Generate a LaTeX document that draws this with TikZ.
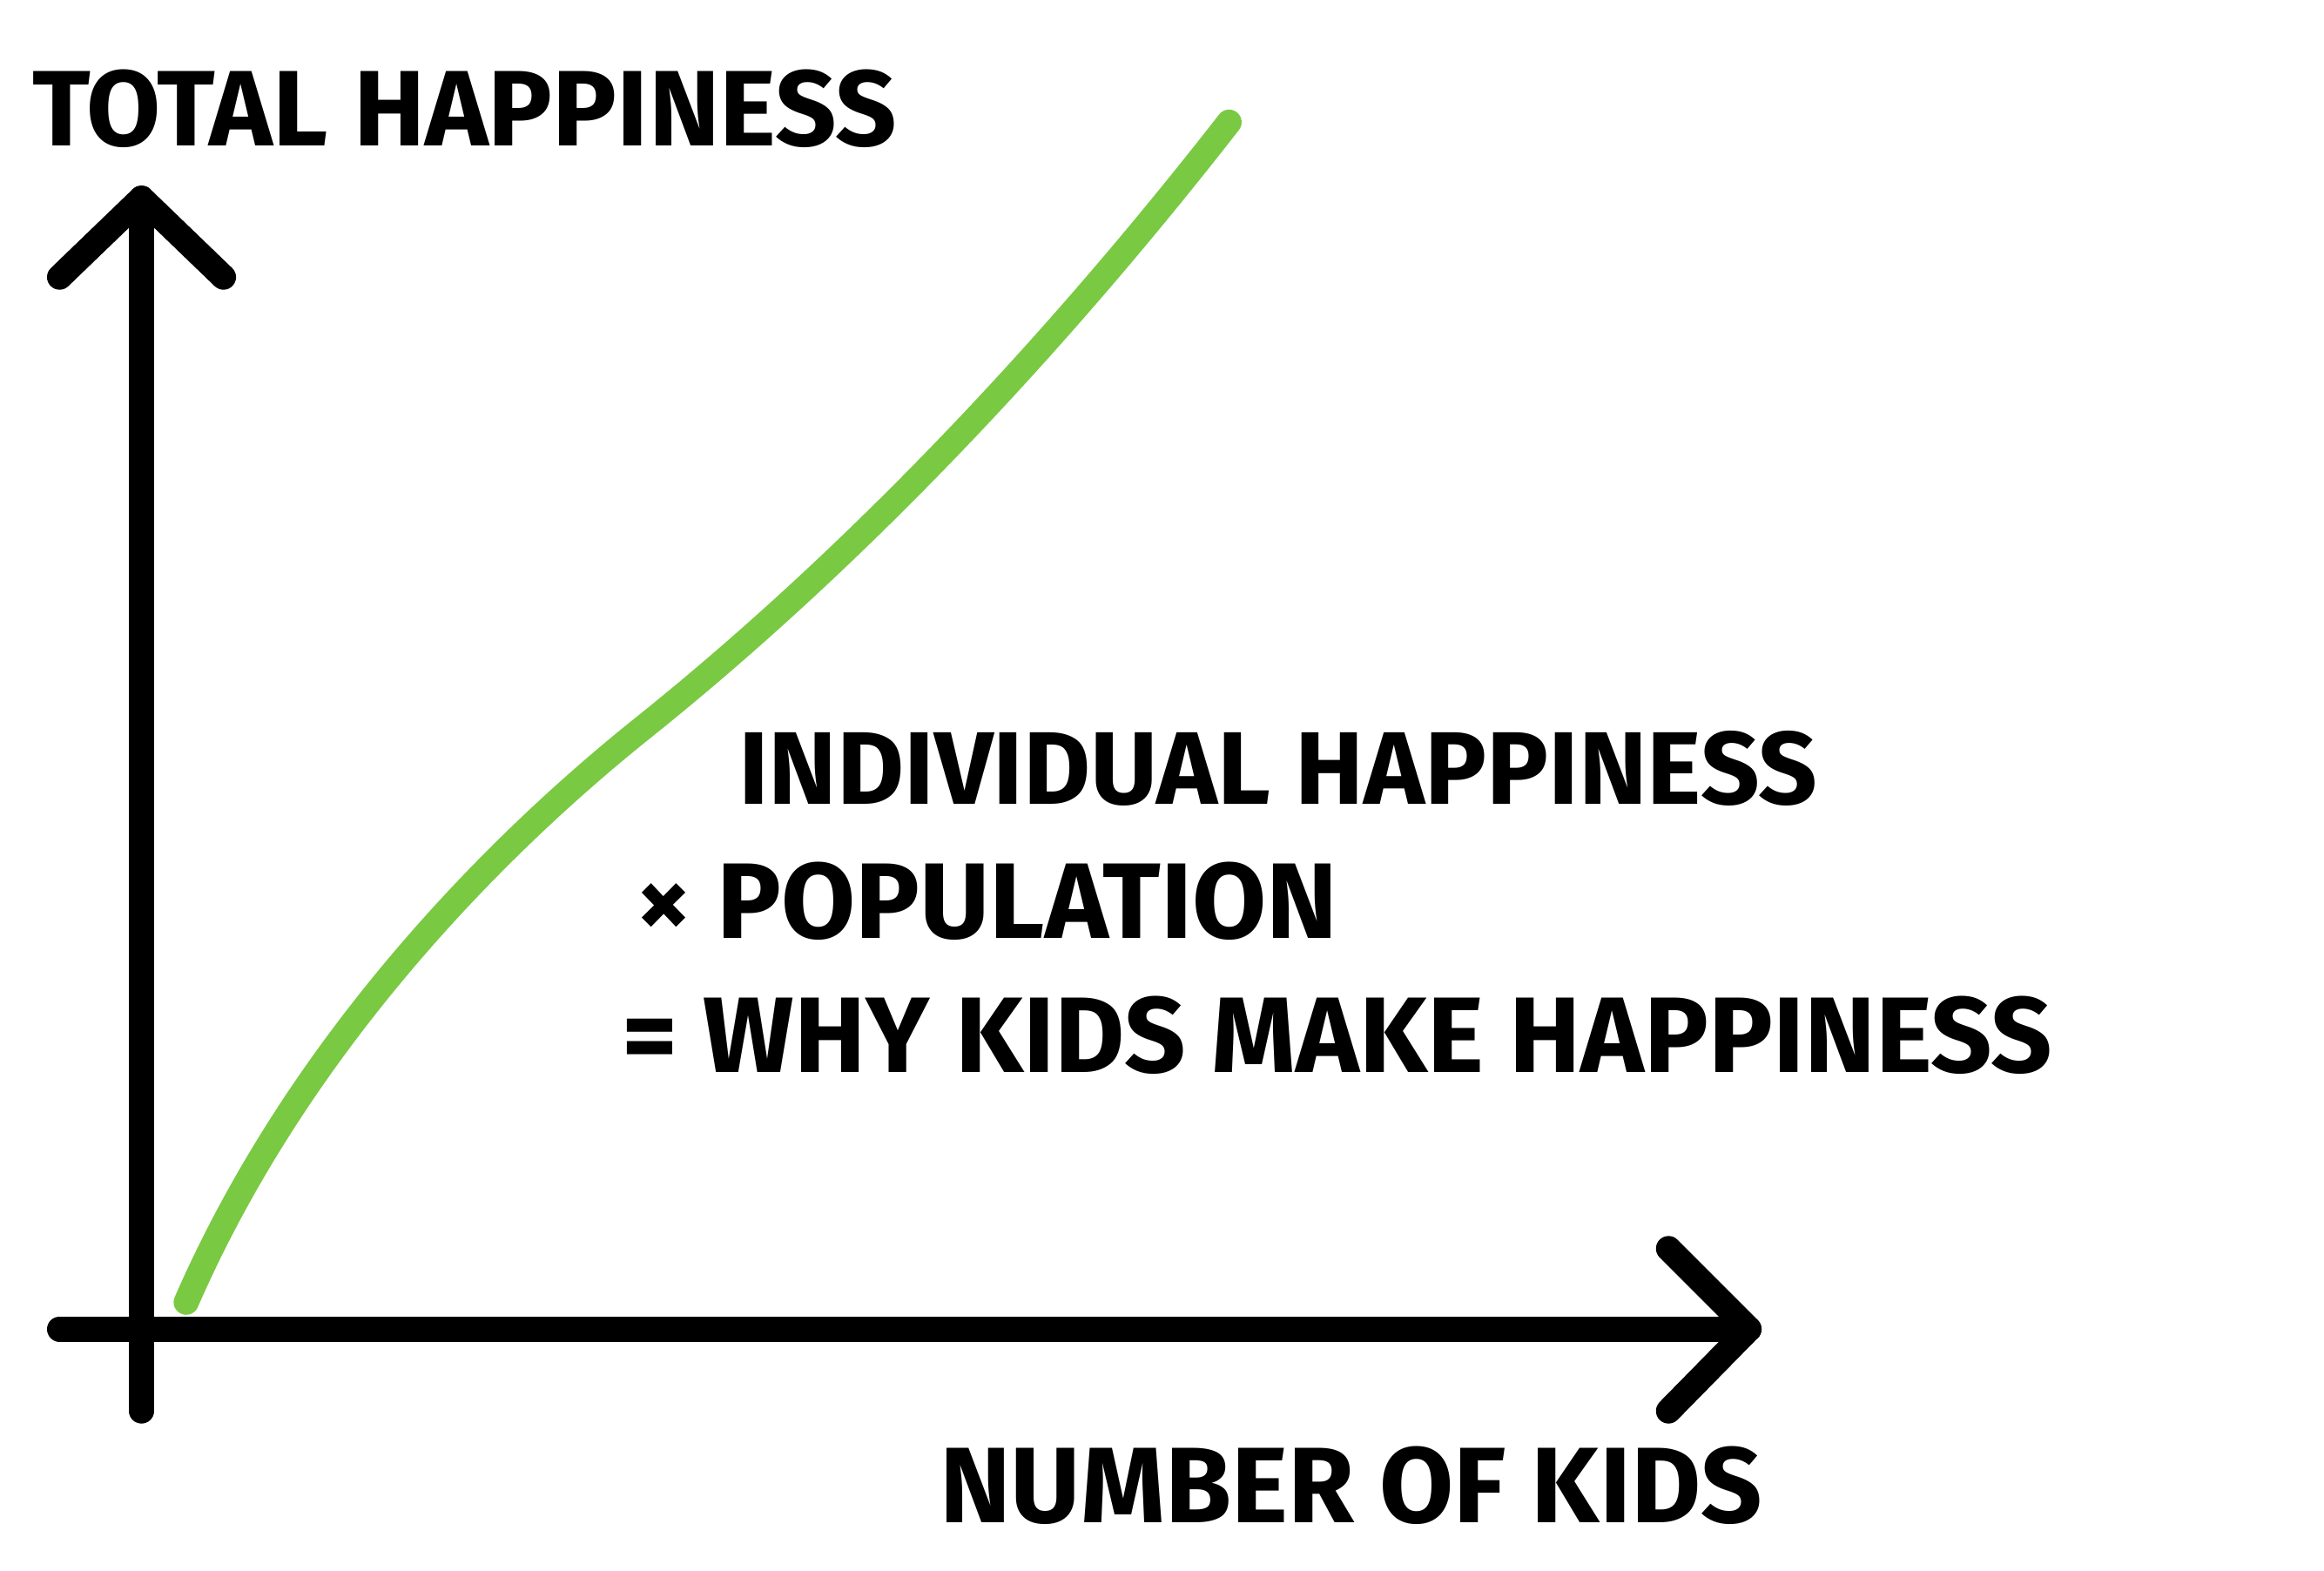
\documentclass[tikz,border=0pt]{standalone}
\usepackage{fontspec}
\setsansfont{Fira Sans}
\usepackage{tikz}

\tikzset{
  axis/.style={line width=4.8pt, line cap=round, line join=round},
  lbl/.style={font=\sffamily\bfseries\fontsize{20.5}{24}\selectfont, inner sep=0pt},
}
\definecolor{curvegreen}{HTML}{7AC943}

\begin{document}
\begin{tikzpicture}[x=0.01cm, y=-0.01cm]
            \useasboundingbox (0,0) rectangle (1560,1054);
            % Axes
            \coordinate (yb) at (95,947);
            \coordinate (yt) at (95,133);
            \coordinate (xl) at (40,892);
            \coordinate (xr) at (1174,892);
            \draw[axis] (yb) -- (yt);
            \draw[axis] (40,186) -- (yt) -- (150,186);
            \draw[axis] (xl) -- (xr);
            \draw[axis] (1120,838) -- (xr) -- (1120,947);
            % Curve
            \coordinate (c0) at (125,874);
            \coordinate (c1) at (431,489);
            \coordinate (c2) at (825,82);
            \draw[line width=4.8pt, line cap=round, curvegreen] (c0) .. controls (200,702) and (331,569) .. (c1) .. controls (571,377) and (705,236) .. (c2);
            % Labels
            \node[lbl, anchor=base west] (ylabel) at (21,98) {TOTAL HAPPINESS};
            \node[lbl, anchor=base west] (xlabel) at (630,1022) {NUMBER OF KIDS};
            \node[lbl, font=\sffamily\bfseries\fontsize{19.7}{24}\selectfont, anchor=base west] (line1) at (495,540) {INDIVIDUAL HAPPINESS};
            \node[lbl, anchor=base west] (line2) at (426,630) {× POPULATION};
            \node[lbl, anchor=base west] (line3) at (417,720) {= WHY KIDS MAKE HAPPINESS};
        \end{tikzpicture}
\end{document}
